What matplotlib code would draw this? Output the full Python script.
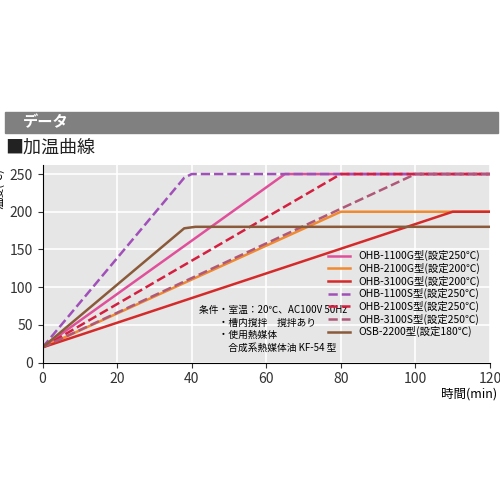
import matplotlib
matplotlib.use("Agg")
import matplotlib.pyplot as plt
from matplotlib.patches import Rectangle

plt.rcParams['font.family'] = ['Noto Sans CJK JP', 'DejaVu Sans']

labels = ["OHB-1100G型(設定250℃)", "OHB-2100G型(設定200℃)", "OHB-3100G型(設定200℃)",
          "OHB-1100S型(設定250℃)", "OHB-2100S型(設定250℃)", "OHB-3100S型(設定250℃)",
          "OSB-2200型(設定180℃)"]
xs = [[0, 65, 120], [0, 80, 120], [0, 110, 120], [0, 38, 40, 120], [0, 80, 120], [0, 100, 120], [0, 38, 41, 120]]
ys = [[20, 250, 250], [20, 200, 200], [20, 200, 200], [20, 245, 250, 250], [20, 250, 250], [20, 250, 250], [20, 178, 180, 180]]
colors = ["#e0509a", "#f08a30", "#d42a2a", "#a050b8", "#d42040", "#b05878", "#8a5a3a"]
styles = ["-", "-", "-", "--", "--", "--", "-"]

fig = plt.figure(figsize=(5, 5), dpi=100)
fig.add_artist(Rectangle((0.01, 0.735), 0.985, 0.04, transform=fig.transFigure, color="#808080"))
fig.text(0.045, 0.755, "データ", color="white", fontsize=11, fontweight="bold", va="center")
fig.text(0.01, 0.705, "■加温曲線", color="#222", fontsize=13, va="center")

ax = fig.add_axes([0.085, 0.275, 0.895, 0.395])
ax.set_facecolor("#e6e6e6")
for x, y, c, s, l in zip(xs, ys, colors, styles, labels):
    ax.plot(x, y, color=c, ls=s, lw=1.8, label=l)
ax.set_xlim(0, 120)
ax.set_ylim(0, 262)
ax.set_xticks(range(0, 121, 20))
ax.set_yticks(range(0, 251, 50))
ax.grid(color="white", lw=1.2)
ax.set_axisbelow(True)
for sp in ["top", "right"]:
    ax.spines[sp].set_visible(False)
ax.tick_params(labelsize=10, colors="#333")
ax.set_ylabel("温度(℃)", fontsize=8, labelpad=0)
ax.yaxis.set_label_coords(-0.085, 0.88)
ax.text(1.015, -0.125, "時間(min)", transform=ax.transAxes, ha="right", va="top", fontsize=9)
ax.text(42, 76, "条件・室温：20℃、AC100V 50Hz\n　　・槽内撹拌　撹拌あり\n　　・使用熱媒体\n　　　合成系熱媒体油 KF-54 型",
        fontsize=7, va="top", linespacing=1.3)
ax.legend(loc="lower right", fontsize=7.5, frameon=False, handlelength=2.2,
          labelspacing=0.15, bbox_to_anchor=(1.0, 0.08))
fig.savefig("out.png")
